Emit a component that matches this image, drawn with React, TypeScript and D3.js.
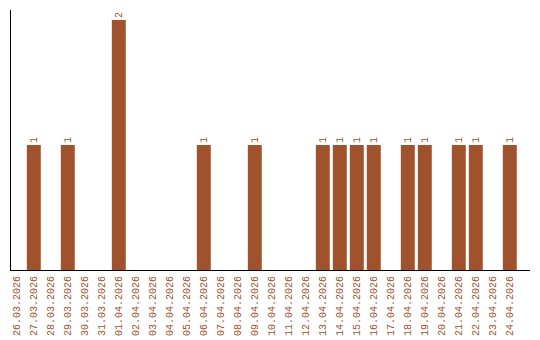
import React from "react";
import * as d3 from "d3";

const dates = [
  "26.03.2026","27.03.2026","28.03.2026","29.03.2026","30.03.2026","31.03.2026",
  "01.04.2026","02.04.2026","03.04.2026","04.04.2026","05.04.2026","06.04.2026",
  "07.04.2026","08.04.2026","09.04.2026","10.04.2026","11.04.2026","12.04.2026",
  "13.04.2026","14.04.2026","15.04.2026","16.04.2026","17.04.2026","18.04.2026",
  "19.04.2026","20.04.2026","21.04.2026","22.04.2026","23.04.2026","24.04.2026",
];
const counts = [0,1,0,1,0,0,2,0,0,0,0,1,0,0,1,0,0,0,1,1,1,1,0,1,1,0,1,1,0,1];

const W = 540, H = 340;
const COLOR = "#a0522d";
const FONT = "'Liberation Mono', monospace";

export default function App() {
  const x = d3.scaleBand<string>().domain(dates).range([8.3, 518.3]).paddingInner(0.18).paddingOuter(0.09);
  const y = d3.scaleLinear().domain([0, 2]).range([270, 20]);
  const base = y(0);
  return (
    <svg width={W} height={H} style={{ position: "absolute", left: 0, top: 0, background: "#fff" }}>
      {dates.map((d, i) => {
        const v = counts[i];
        const cx = (x(d) as number) + x.bandwidth() / 2;
        return (
          <g key={d}>
            {v > 0 && (
              <>
                <rect x={x(d)} y={y(v)} width={x.bandwidth()} height={base - y(v)} fill={COLOR} />
                <text transform={`translate(${cx},${y(v) - 2}) rotate(-90)`} dy="0.35em" fontFamily={FONT} fontSize={10} fill={COLOR}>{v}</text>
              </>
            )}
            <text transform={`translate(${cx},276) rotate(-90)`} dy="0.35em" textAnchor="end" fontFamily={FONT} fontSize={10} fill={COLOR}>{d}</text>
          </g>
        );
      })}
      <line x1={10.5} x2={10.5} y1={10} y2={270} stroke="#000" strokeWidth={1} />
      <line x1={10} x2={530} y1={270.5} y2={270.5} stroke="#000" strokeWidth={1} />
    </svg>
  );
}
